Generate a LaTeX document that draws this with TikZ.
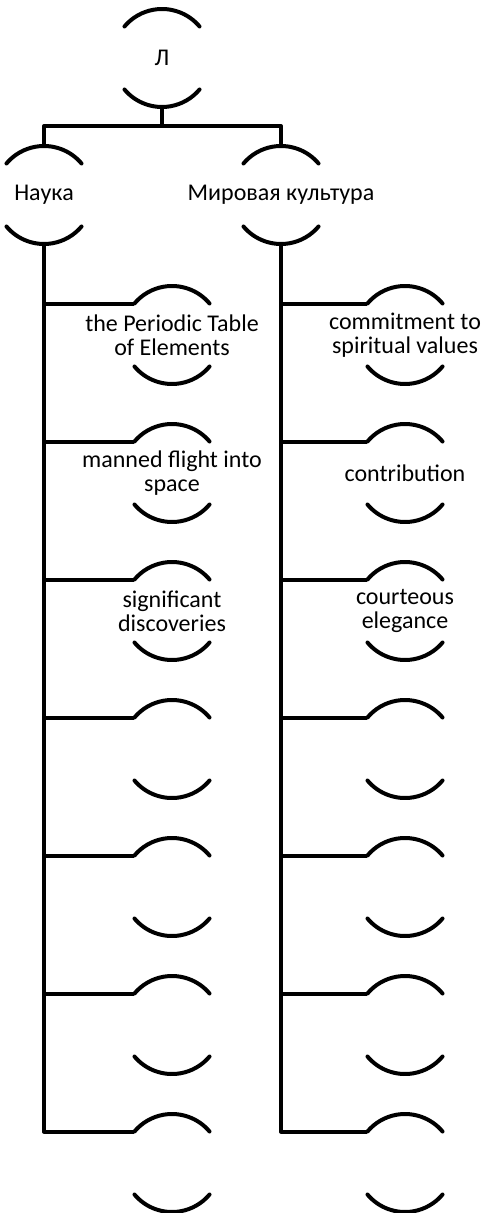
\documentclass[tikz,border=0pt]{standalone}
\usepackage{fontspec}
\setmainfont{Carlito}
\usetikzlibrary{positioning}

% the two arcs of a bracket ring
\newcommand{\brackets}[1]{%
  \draw[arcline] (#1.40) arc[start angle=40, end angle=140, radius=24.5pt]
                 (#1.220) arc[start angle=220, end angle=320, radius=24.5pt];}

\begin{document}
\begin{tikzpicture}[
  x=0.5pt, y=0.5pt,
  ring/.style={circle, minimum size=49pt, inner sep=0pt, outer sep=0pt},
  txt/.style={align=center, font=\fontsize{12}{12}\selectfont, inner sep=0pt},
  wire/.style={draw, line width=2pt, line join=round},
  arcline/.style={line width=2pt, line cap=round}
]
\useasboundingbox (0,0) rectangle (485,-1213);

\node[ring] (root) at (162,-58) {};
\node[ring] (sci) at (44,-195) {};
\node[ring] (cult) at (281,-195) {};
\foreach \i in {1,...,7} {
  \node[ring] (a\i) at (172,{-335-138*(\i-1)}) {};
  \node[ring] (b\i) at (405,{-335-138*(\i-1)}) {};
}

% texts
\node[txt] (roottext) at (root) {Л};
\node[txt] (scitext) at (sci) {Наука};
\node[txt] (culttext) at (cult) {Мировая культура};
\node[txt] (a1text) at (a1) {the Periodic Table\\of Elements};
\node[txt] (a2text) at (a2) {manned flight into\\space};
\node[txt] (a3text) at (a3) {significant\\discoveries};
\node[txt] (b1text) at (b1) {commitment to\\spiritual values};
\node[txt] (b2text) at (b2) {contribution};
\node[txt] (b3text) at (b3) {courteous\\elegance};

\foreach \n in {root,sci,cult,a1,a2,a3,a4,a5,a6,a7,b1,b2,b3,b4,b5,b6,b7}
  \brackets{\n};

% connectors
\coordinate (fork) at (162,-126);
\draw[wire] (root.south) -- (fork);
\draw[wire] (sci.north) |- (fork) -| (cult.north);
\draw[wire] (sci.south) |- (a7.140);
\draw[wire] (cult.south) |- (b7.140);
\foreach \i in {1,...,6} {
  \draw[wire] (sci.south |- a\i.140) -- (a\i.140);
  \draw[wire] (cult.south |- b\i.140) -- (b\i.140);
}
\end{tikzpicture}
\end{document}
